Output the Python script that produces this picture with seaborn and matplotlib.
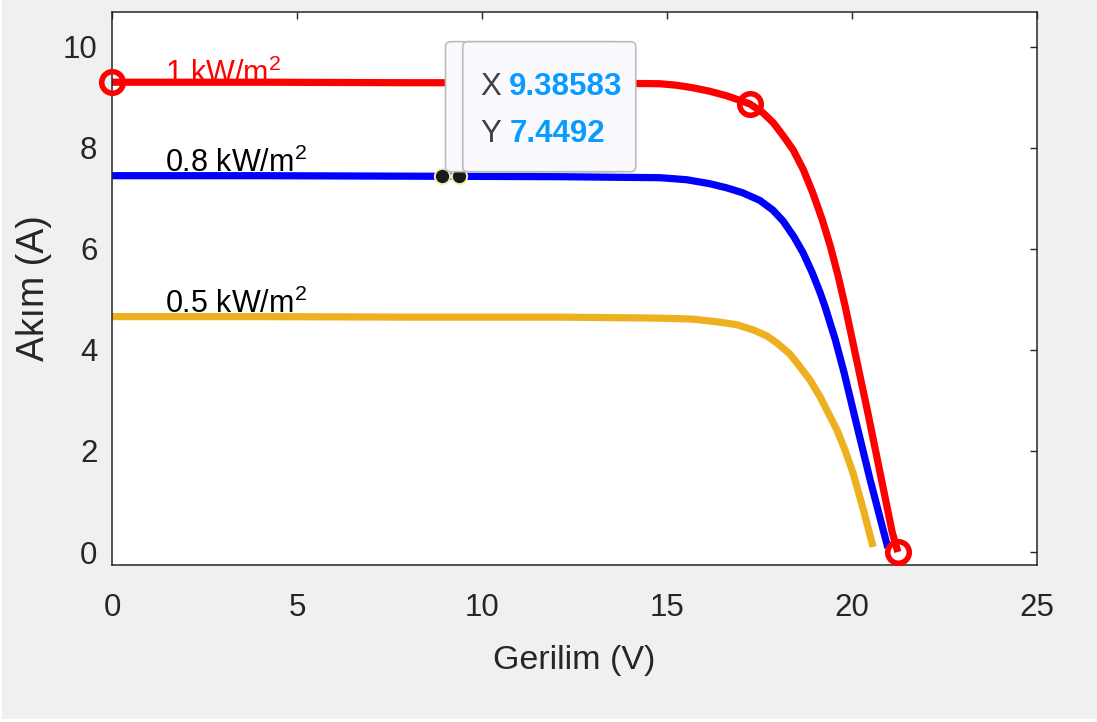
import matplotlib
matplotlib.use("Agg")
import matplotlib.pyplot as plt
import pandas as pd
import seaborn as sns
from matplotlib.patches import FancyBboxPatch, Rectangle
from matplotlib.transforms import ScaledTranslation

# ---- I-V curves of the PV module at three irradiance levels ----
v_1000 = [0.0, 4.0, 8.0, 12.0, 14.81, 15.26, 15.70, 16.16, 16.62, 16.97, 17.24,
          17.60, 17.87, 18.14, 18.41, 18.69, 18.94, 19.20, 19.42, 19.63, 19.82,
          20.43, 21.09, 21.24]
i_1000 = [9.30, 9.30, 9.29, 9.29, 9.27, 9.24, 9.19, 9.12, 9.03, 8.94, 8.87,
          8.69, 8.50, 8.24, 7.96, 7.56, 7.11, 6.57, 6.04, 5.45, 4.85,
          2.75, 0.38, 0.0]

v_800 = [0.0, 4.0, 8.0, 12.0, 14.81, 15.53, 16.16, 16.61, 17.05, 17.51, 17.86,
         18.14, 18.43, 18.68, 18.93, 19.13, 19.27, 19.55, 19.79, 20.05, 20.27,
         20.49, 20.97]
i_800 = [7.45, 7.45, 7.44, 7.43, 7.41, 7.37, 7.29, 7.21, 7.11, 6.96, 6.77,
         6.55, 6.24, 5.92, 5.52, 5.15, 4.86, 4.20, 3.54, 2.75, 2.09,
         1.43, 0.08]

v_500 = [0.0, 4.0, 8.0, 12.11, 14.81, 15.71, 16.43, 16.88, 17.32, 17.69, 17.97,
         18.32, 18.59, 18.86, 19.14, 19.36, 19.59, 19.81, 20.03, 20.31, 20.57]
i_500 = [4.66, 4.66, 4.65, 4.65, 4.63, 4.61, 4.55, 4.50, 4.40, 4.28, 4.14,
         3.92, 3.67, 3.41, 3.07, 2.75, 2.42, 2.02, 1.56, 0.83, 0.10]

levels = ["1 kW/m$^2$", "0.8 kW/m$^2$", "0.5 kW/m$^2$"]
line_colors = ["#ff0000", "#0000ff", "#edb120"]
label_colors = ["#ff0000", "#000000", "#000000"]
label_x = 1.43
label_y = [9.28, 7.52, 4.73]

# circled points on the 1 kW/m2 curve: Isc, maximum power point, Voc
mark_v = [0.0, 17.24, 21.24]
mark_i = [9.30, 8.87, 0.0]

# data tips placed on the 0.8 kW/m2 curve
tip_v = [8.92, 9.38583]
tip_i = [7.45, 7.4492]
tip_text_x = ["9.38583"]
tip_text_y = ["7.4492"]

xticks = [0, 5, 10, 15, 20, 25]
yticks = [0, 2, 4, 6, 8, 10]

# ---- styling ----
sns.set_theme(style="white")
plt.rcParams["font.family"] = ["Liberation Sans", "DejaVu Sans"]
plt.rcParams["mathtext.fontset"] = "custom"
plt.rcParams["mathtext.rm"] = "Liberation Sans"
plt.rcParams["mathtext.it"] = "Liberation Sans:italic"
plt.rcParams["mathtext.bf"] = "Liberation Sans:bold"

ink = "#262626"

fig = plt.figure(figsize=(10.97, 7.22), dpi=100, facecolor="white")
fig.patches.append(Rectangle((2 / 1097, 3 / 722), 1, 1, transform=fig.transFigure,
                             facecolor="#f0f0f0", edgecolor="none", zorder=-5))
ax = fig.add_axes([112 / 1097, 157 / 722, 925 / 1097, 553 / 722])
ax.set_facecolor("white")

df = pd.concat([
    pd.DataFrame({"V": v, "I": i, "level": lev})
    for v, i, lev in zip([v_1000, v_800, v_500], [i_1000, i_800, i_500], levels)
], ignore_index=True)

sns.lineplot(data=df, x="V", y="I", hue="level", hue_order=levels,
             palette=dict(zip(levels, line_colors)), linewidth=5.2,
             estimator=None, sort=False, legend=False, ax=ax,
             solid_capstyle="butt", solid_joinstyle="round")

ax.plot(mark_v, mark_i, linestyle="none", marker="o", markersize=15.5,
        markerfacecolor="none", markeredgecolor="#ff0000", markeredgewidth=4.0,
        zorder=5, clip_on=False)

for k, txt in enumerate(levels):
    ax.text(label_x, label_y[k], txt, color=label_colors[k], fontsize=22,
            ha="left", va="baseline", zorder=1)

# data tip boxes, sized in inches and anchored at each tip point
for k in range(len(tip_v)):
    trans = fig.dpi_scale_trans + ScaledTranslation(tip_v[k], tip_i[k], ax.transData)
    box = FancyBboxPatch((0.035, 0.04), 1.73, 1.30,
                         boxstyle="round,pad=0,rounding_size=0.05",
                         transform=trans, facecolor="#f9f9fe", edgecolor="#bcbcbc",
                         linewidth=1.2, zorder=7 + 2 * k)
    ax.add_artist(box)
    if k == len(tip_v) - 1:
        ax.text(0.21, 0.81, "X", transform=trans, color="#404040", fontsize=22.5,
                ha="left", va="baseline", zorder=8 + 2 * k)
        ax.text(0.50, 0.81, tip_text_x[0], transform=trans, color="#0a9bff",
                fontsize=22.5, fontweight="bold", ha="left", va="baseline",
                zorder=8 + 2 * k)
        ax.text(0.21, 0.34, "Y", transform=trans, color="#404040", fontsize=22.5,
                ha="left", va="baseline", zorder=8 + 2 * k)
        ax.text(0.50, 0.34, tip_text_y[0], transform=trans, color="#0a9bff",
                fontsize=22.5, fontweight="bold", ha="left", va="baseline",
                zorder=8 + 2 * k)

ax.plot(tip_v, tip_i, linestyle="none", marker="o", markersize=11,
        markerfacecolor="#1a1a1a", markeredgecolor="#f3eec0", markeredgewidth=1.4,
        zorder=6)

ax.set_xlim(0, 25)
ax.set_ylim(-0.257, 10.69)
ax.set_xticks(xticks)
ax.set_yticks(yticks)
ax.set_xticklabels([str(t) for t in xticks])
ax.set_yticklabels([str(t) for t in yticks])
ax.tick_params(direction="in", length=5, width=1.0, colors=ink, labelsize=22.5,
               top=True, right=True, labeltop=False, labelright=False)
ax.tick_params(axis="x", pad=20)
ax.tick_params(axis="y", pad=10.5)
for sp in ax.spines.values():
    sp.set_color(ink)
    sp.set_linewidth(1.1)

ax.set_xlabel("Gerilim (V)", fontsize=24.5, color=ink)
ax.xaxis.set_label_coords(0.5, -0.145)
ax.set_ylabel("Akım (A)", fontsize=27, color=ink)
ax.yaxis.set_label_coords(-0.065, 0.5)

fig.savefig("out.png", dpi=100, facecolor=fig.get_facecolor())
